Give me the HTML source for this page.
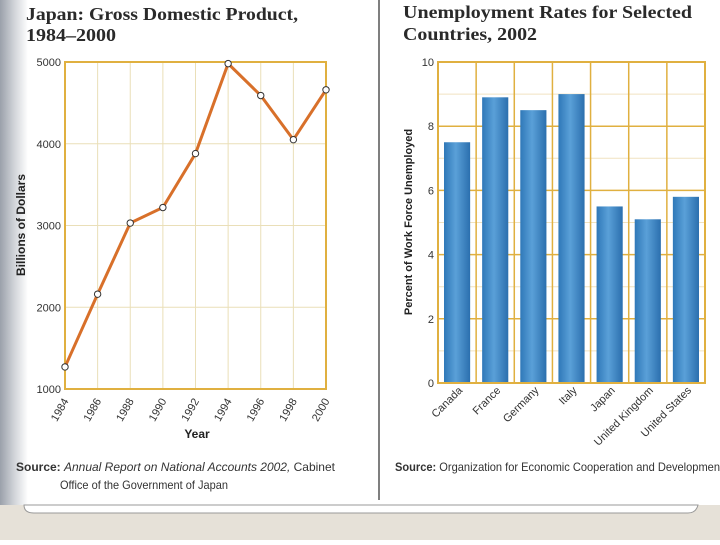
<!DOCTYPE html>
<html><head><meta charset="utf-8"><style>
body{margin:0;width:720px;height:540px;overflow:hidden;background:#fff;font-family:"Liberation Sans",sans-serif}
</style></head><body>
<svg id="s" width="720" height="540" viewBox="0 0 720 540" xmlns="http://www.w3.org/2000/svg">
<defs>
<linearGradient id="edge" x1="0" x2="1"><stop offset="0" stop-color="#9aa0aa"/><stop offset="0.5" stop-color="#d0d3d8"/><stop offset="1" stop-color="#fff"/></linearGradient>
<linearGradient id="barg" x1="0" x2="1"><stop offset="0" stop-color="#2f78b8"/><stop offset="0.45" stop-color="#5aa0d8"/><stop offset="1" stop-color="#2b6fae"/></linearGradient>
</defs>
<rect x="0" y="0" width="28" height="505" fill="url(#edge)"/>
<rect x="0" y="505" width="720" height="35" fill="#e6e1d8"/>
<path d="M24 505 Q24 513 34 513 L688 513 Q696 513 698 505 Z" fill="#fff" stroke="#999" stroke-width="1"/>
<line x1="379" y1="0" x2="379" y2="500" stroke="#555" stroke-width="1.5"/>

<g font-family="'Liberation Serif',serif" font-weight="bold" font-size="18" fill="#2a2a2a">
<text x="26" y="20" textLength="272" lengthAdjust="spacingAndGlyphs">Japan: Gross Domestic Product,</text>
<text x="26" y="41" textLength="90" lengthAdjust="spacingAndGlyphs">1984–2000</text>
<text x="403" y="18" textLength="289" lengthAdjust="spacingAndGlyphs">Unemployment Rates for Selected</text>
<text x="403" y="40" textLength="134" lengthAdjust="spacingAndGlyphs">Countries, 2002</text>
</g>
<g id="left"></g>
<g id="right"></g>
<text x="197" y="438" font-size="12" font-weight="bold" text-anchor="middle" fill="#222">Year</text>
<text transform="translate(25,225) rotate(-90)" font-size="12" font-weight="bold" text-anchor="middle" fill="#222">Billions of Dollars</text>
<text transform="translate(412,222) rotate(-90)" font-size="11" font-weight="bold" text-anchor="middle" fill="#222">Percent of Work Force Unemployed</text>
<text x="16" y="471" font-size="12" fill="#333" textLength="319" lengthAdjust="spacingAndGlyphs"><tspan font-weight="bold">Source:</tspan> <tspan font-style="italic">Annual Report on National Accounts 2002,</tspan> Cabinet</text>
<text x="60" y="489" font-size="12" fill="#333" textLength="168" lengthAdjust="spacingAndGlyphs">Office of the Government of Japan</text>
<text x="395" y="471" font-size="12" fill="#333" textLength="325" lengthAdjust="spacingAndGlyphs"><tspan font-weight="bold">Source:</tspan> Organization for Economic Cooperation and Developmen</text>
</svg>
<script>
const years=[1984,1986,1988,1990,1992,1994,1996,1998,2000];
const gdp=[1270,2160,3030,3220,3880,4980,4590,4050,4660];
const gdpTicks=[1000,2000,3000,4000,5000];
const countries=["Canada","France","Germany","Italy","Japan","United Kingdom","United States"];
const rates=[7.5,8.9,8.5,9.0,5.5,5.1,5.8];
const rateTicks=[0,2,4,6,8,10];
const NS="http://www.w3.org/2000/svg";
function mk(p,t,a){const e=document.createElementNS(NS,t);for(const k in a)e.setAttribute(k,a[k]);p.appendChild(e);return e;}
const L=document.getElementById('left');
const lx0=65,lx1=326,ly0=389,ly1=62;
const gx=v=>lx0+(v-1984)/(2000-1984)*(lx1-lx0);
const gy=v=>ly0-(v-1000)/(5000-1000)*(ly0-ly1);
years.forEach(y=>{const l=mk(L,'line',{x1:gx(y),x2:gx(y),y1:ly1,y2:ly0,stroke:'#eadfb8','stroke-width':1});


const t=mk(L,'text',{transform:`translate(${gx(y)+4},${ly0+12}) rotate(-60)`,'font-size':11,'text-anchor':'end',fill:'#333'});t.textContent=y;

});
gdpTicks.forEach(v=>{const l=mk(L,'line',{x1:lx0,x2:lx1,y1:gy(v),y2:gy(v),stroke:'#eadfb8','stroke-width':1});


const t=mk(L,'text',{x:lx0-4,y:gy(v)+4,'font-size':11,'text-anchor':'end',fill:'#333'});t.textContent=v;

});
const fr=mk(L,'rect',{x:lx0,y:ly1,width:lx1-lx0,height:ly0-ly1,fill:'none',stroke:'#e0b040','stroke-width':2});


const ln=mk(L,'polyline',{points:years.map((y,i)=>gx(y)+','+gy(gdp[i])).join(' '),fill:'none',stroke:'#d8702a','stroke-width':3});


years.forEach((y,i)=>{const c=mk(L,'circle',{cx:gx(y),cy:gy(gdp[i]),r:3.2,fill:'#fff',stroke:'#333','stroke-width':1});

});
const R=document.getElementById('right');
const rx0=438,rx1=705,ry0=383,ry1=62;
const cw=(rx1-rx0)/countries.length;
const ry=v=>ry0-v/10*(ry0-ry1);
for(let v=1;v<10;v++){const l=mk(R,'line',{x1:rx0,x2:rx1,y1:ry(v),y2:ry(v),stroke:v%2?'#f0e2c0':'#e0b040','stroke-width':v%2?1:1.5});

}
for(let i=1;i<countries.length;i++){const l=mk(R,'line',{x1:rx0+i*cw,x2:rx0+i*cw,y1:ry1,y2:ry0,stroke:'#e0b040','stroke-width':1.5});

}
rateTicks.forEach(v=>{const t=mk(R,'text',{x:rx0-4,y:ry(v)+4,'font-size':11,'text-anchor':'end',fill:'#333'});t.textContent=v;

});
countries.forEach((c,i)=>{const x=rx0+i*cw+6;
const b=mk(R,'rect',{x:x,y:ry(rates[i]),width:cw-12,height:ry0-ry(rates[i]),fill:'url(#barg)'});


const t=mk(R,'text',{transform:`translate(${rx0+(i+0.5)*cw+6},${ry0+8}) rotate(-45)`,'font-size':11,'text-anchor':'end',fill:'#333'});t.textContent=c;

});
const fr2=mk(R,'rect',{x:rx0,y:ry1,width:rx1-rx0,height:ry0-ry1,fill:'none',stroke:'#e0b040','stroke-width':2});


</script>
</body></html>
